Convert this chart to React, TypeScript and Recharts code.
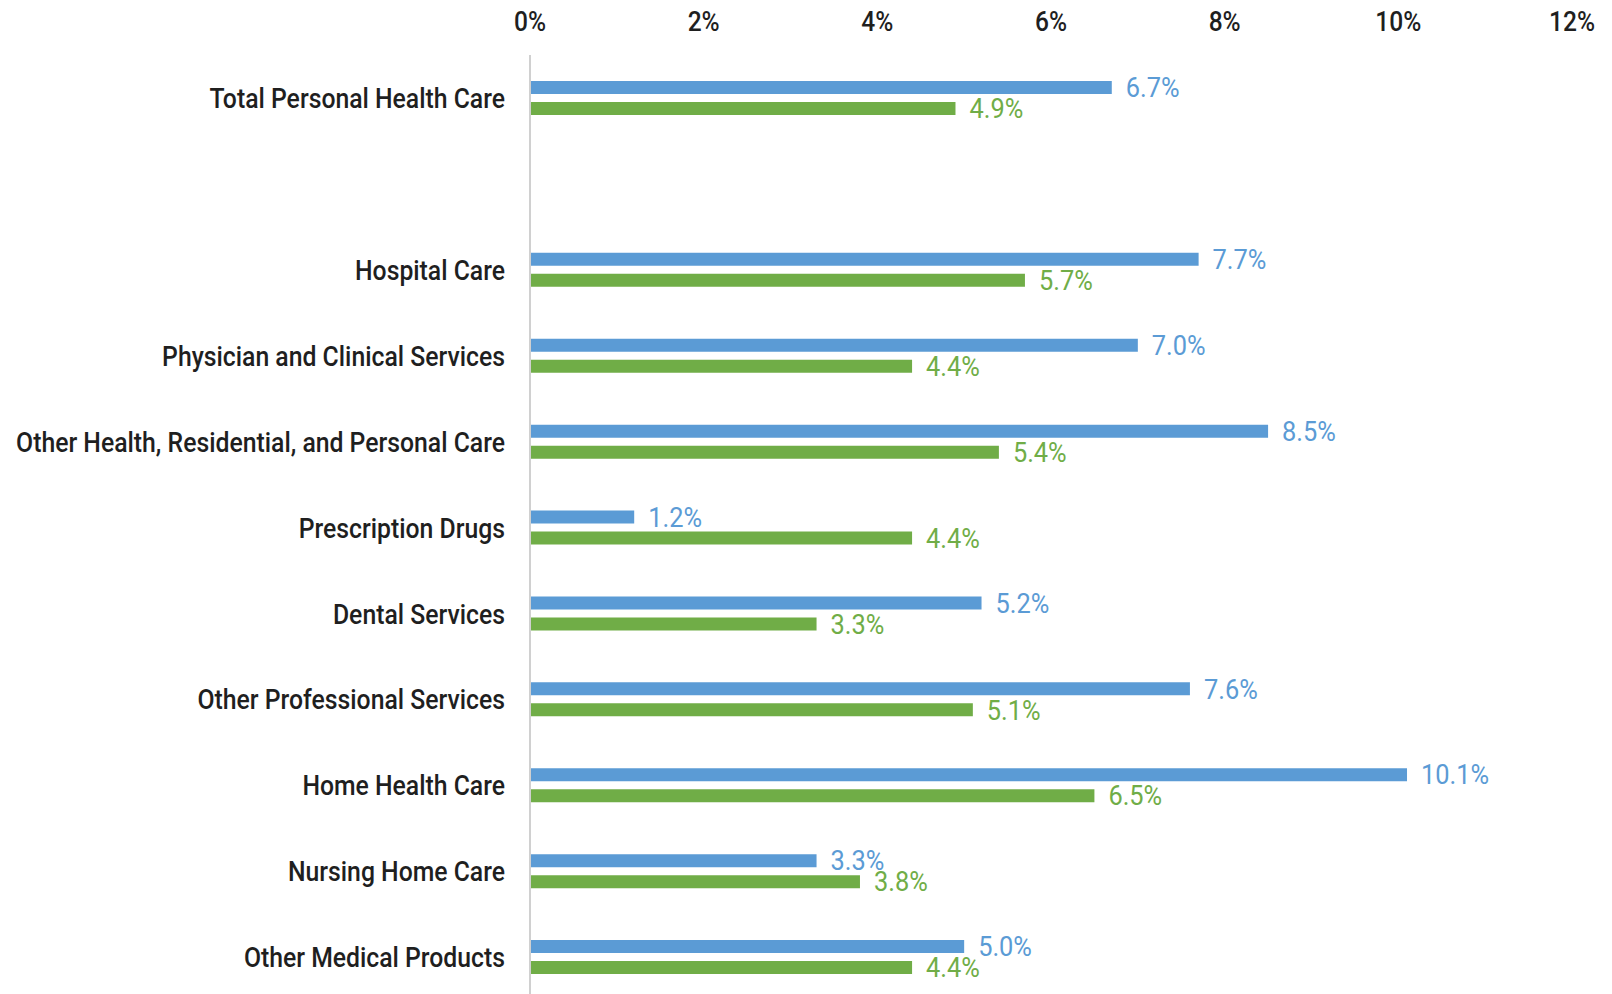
import React from 'react';
import { BarChart, Bar, XAxis, YAxis, LabelList } from 'recharts';

const categories = [
  'Total Personal Health Care',
  '',
  'Hospital Care',
  'Physician and Clinical Services',
  'Other Health, Residential, and Personal Care',
  'Prescription Drugs',
  'Dental Services',
  'Other Professional Services',
  'Home Health Care',
  'Nursing Home Care',
  'Other Medical Products',
];

const blueValues = [6.7, null, 7.7, 7.0, 8.5, 1.2, 5.2, 7.6, 10.1, 3.3, 5.0];
const greenValues = [4.9, null, 5.7, 4.4, 5.4, 4.4, 3.3, 5.1, 6.5, 3.8, 4.4];

const xTicks = [0, 2, 4, 6, 8, 10, 12];

const data = categories.map((name, i) => ({
  name,
  blue: blueValues[i],
  green: greenValues[i],
}));

const font = 'Roboto, "DejaVu Sans Condensed", sans-serif';
const BLUE = '#5b9bd5';
const GREEN = '#70ad47';
const TEXT = '#1f1f1f';

const fmt = (v: any) => (v == null ? '' : `${Number(v).toFixed(1)}%`);

const CategoryTick = (props: any) => {
  const { x, y, payload } = props;
  return (
    <g transform={`translate(${x},${y})`}>
      <text
        transform="scale(0.885,1)"
        textAnchor="end"
        dy="0.36em"
        fill={TEXT}
        fontSize={28}
        fontWeight={500}
        fontFamily={font}
      >
        {payload.value}
      </text>
    </g>
  );
};

const PercentTick = (props: any) => {
  const { x, y, payload } = props;
  return (
    <g transform={`translate(${x},${y})`}>
      <text transform="scale(0.91,1)" textAnchor="middle" fill={TEXT} fontSize={27} fontWeight={500} fontFamily={font}>
        {`${payload.value}%`}
      </text>
    </g>
  );
};

const makeLabel = (color: string) => (props: any) => {
  const { x, y, width, height, value } = props;
  if (value == null) return null;
  return (
    <g transform={`translate(${x + width + 14},${y + height / 2})`}>
      <text transform="scale(0.94,1)" textAnchor="start" dy="0.36em" fill={color} fontSize={27} fontFamily={font}>
        {fmt(value)}
      </text>
    </g>
  );
};

export default function App() {
  return (
    <div style={{ position: 'absolute', left: 0, top: 0, width: 1612, height: 994, overflow: 'hidden', background: '#fff' }}>
      <BarChart
        width={1612}
        height={1000}
        data={data}
        layout="vertical"
        margin={{ top: 0, right: 40, bottom: 0, left: 0 }}
        barSize={13}
        barGap={8}
      >
        <XAxis
          type="number"
          orientation="top"
          domain={[0, 12]}
          ticks={xTicks}
          height={55}
          axisLine={false}
          tickLine={false}
          tickSize={0}
          tickMargin={24}
          tick={<PercentTick />}
        />
        <YAxis
          type="category"
          dataKey="name"
          width={530}
          interval={0}
          axisLine={{ stroke: '#d0d0d0', strokeWidth: 2 }}
          tickLine={false}
          tickSize={0}
          tickMargin={25}
          tick={<CategoryTick />}
        />
        <Bar dataKey="blue" fill={BLUE} isAnimationActive={false}>
          <LabelList dataKey="blue" content={makeLabel(BLUE)} />
        </Bar>
        <Bar dataKey="green" fill={GREEN} isAnimationActive={false}>
          <LabelList dataKey="green" content={makeLabel(GREEN)} />
        </Bar>
      </BarChart>
    </div>
  );
}
